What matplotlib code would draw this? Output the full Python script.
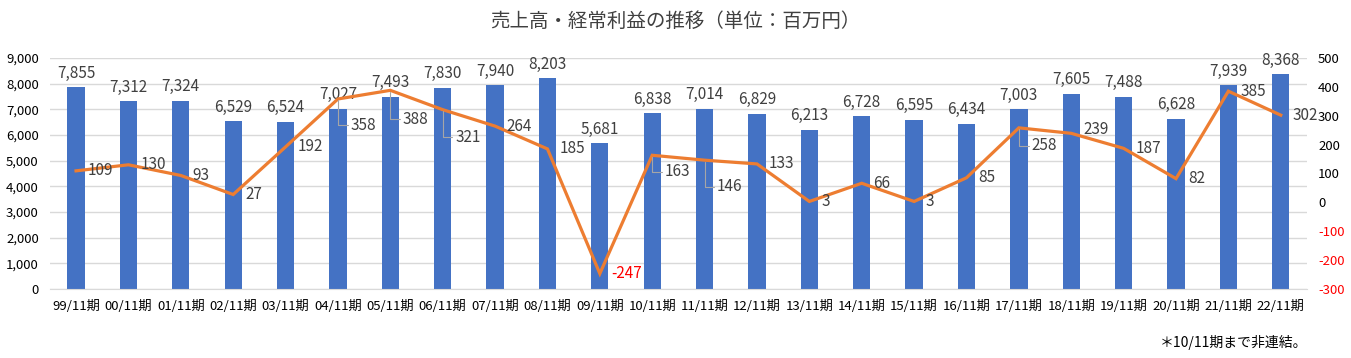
import matplotlib
matplotlib.use("Agg")
import matplotlib.pyplot as plt
from matplotlib.ticker import FuncFormatter, MultipleLocator

plt.rcParams['font.family'] = ['Noto Sans CJK JP', 'DejaVu Sans']

categories = ['99/11期', '00/11期', '01/11期', '02/11期', '03/11期', '04/11期', '05/11期',
              '06/11期', '07/11期', '08/11期', '09/11期', '10/11期', '11/11期', '12/11期',
              '13/11期', '14/11期', '15/11期', '16/11期', '17/11期', '18/11期', '19/11期',
              '20/11期', '21/11期', '22/11期']
sales = [7855, 7312, 7324, 6529, 6524, 7027, 7493, 7830, 7940, 8203, 5681, 6838,
         7014, 6829, 6213, 6728, 6595, 6434, 7003, 7605, 7488, 6628, 7939, 8368]
profit = [109, 130, 93, 27, 192, 358, 388, 321, 264, 185, -247, 163,
          146, 133, 3, 66, 3, 85, 258, 239, 187, 82, 385, 302]
right_ticks = [-300, -200, -100, 0, 100, 200, 300, 400, 500]

# label vertical displacement (points) for moved profit labels (style)
label_dy = [0, 0, 0, 0, 0, -19, -21, -20, 0, 0, 0, -12,
            -19, 0, 0, 0, 0, 0, -13, 3, 0, 0, 0, 0]

BAR = '#4472C4'
LINE = '#ED7D31'
TXT = '#404040'

fig = plt.figure(figsize=(13.51, 3.58), dpi=100)
ax = fig.add_axes([0.0369, 0.193, 0.9305, 0.645])
ax2 = ax.twinx()

x = list(range(len(categories)))
ax.bar(x, sales, width=0.33, color=BAR, zorder=2)
ax.set_xlim(-0.5, len(categories) - 0.5)
ax.set_ylim(0, 9000)
ax.yaxis.set_major_locator(MultipleLocator(1000))
ax.yaxis.set_major_formatter(FuncFormatter(lambda v, p: f'{int(v):,}'))
ax.grid(axis='y', color='#d9d9d9', lw=1, zorder=0)
ax.set_axisbelow(True)
ax.set_xticks(x)
ax.set_xticklabels(categories, fontsize=9.5, color='#000000')
ax.tick_params(axis='x', length=0, pad=8)
ax.tick_params(axis='y', length=0, labelsize=9.5, pad=8, labelcolor='#000000')
for s in ['top', 'right', 'left']:
    ax.spines[s].set_visible(False)
ax.spines['bottom'].set_color('#d9d9d9')

for xi, v in zip(x, sales):
    ax.annotate(f'{v:,}', (xi, v), xytext=(0, 4), textcoords='offset points',
                ha='center', va='bottom', fontsize=11, color=TXT)

ax2.plot(x, profit, color=LINE, lw=2.3, zorder=3, solid_joinstyle='miter')
ax2.set_yticks(right_ticks)
ax2.set_yticklabels([f'{t}' for t in right_ticks])
ax2.set_ylim(-300, 500)
ax2.tick_params(axis='y', length=0, labelsize=9.5, pad=8)
for t, lbl in zip(right_ticks, ax2.get_yticklabels()):
    lbl.set_color('#FF0000' if t < 0 else '#000000')
for s in ['top', 'right', 'left', 'bottom']:
    ax2.spines[s].set_visible(False)

for xi, v, dy in zip(x, profit, label_dy):
    col = '#FF0000' if v < 0 else TXT
    if dy < -5:
        ax2.annotate(f'{v}', (xi, v), xytext=(9, dy), textcoords='offset points',
                     ha='left', va='center', fontsize=11, color=col,
                     arrowprops=dict(arrowstyle='-', color='#a6a6a6', lw=0.8,
                                     shrinkA=0, shrinkB=1,
                                     connectionstyle='angle,angleA=0,angleB=90,rad=0'))
    else:
        ax2.annotate(f'{v}', (xi, v), xytext=(8.5, dy), textcoords='offset points',
                     ha='left', va='center', fontsize=11, color=col)

fig.text(0.5, 0.94, '売上高・経常利益の推移（単位：百万円）', ha='center', va='center',
         fontsize=14, color='#404040')
fig.text(0.968, 0.042, '＊10/11期まで非連結。', ha='right', va='center',
         fontsize=10, color='#000000')

fig.savefig('out.png', dpi=100)
